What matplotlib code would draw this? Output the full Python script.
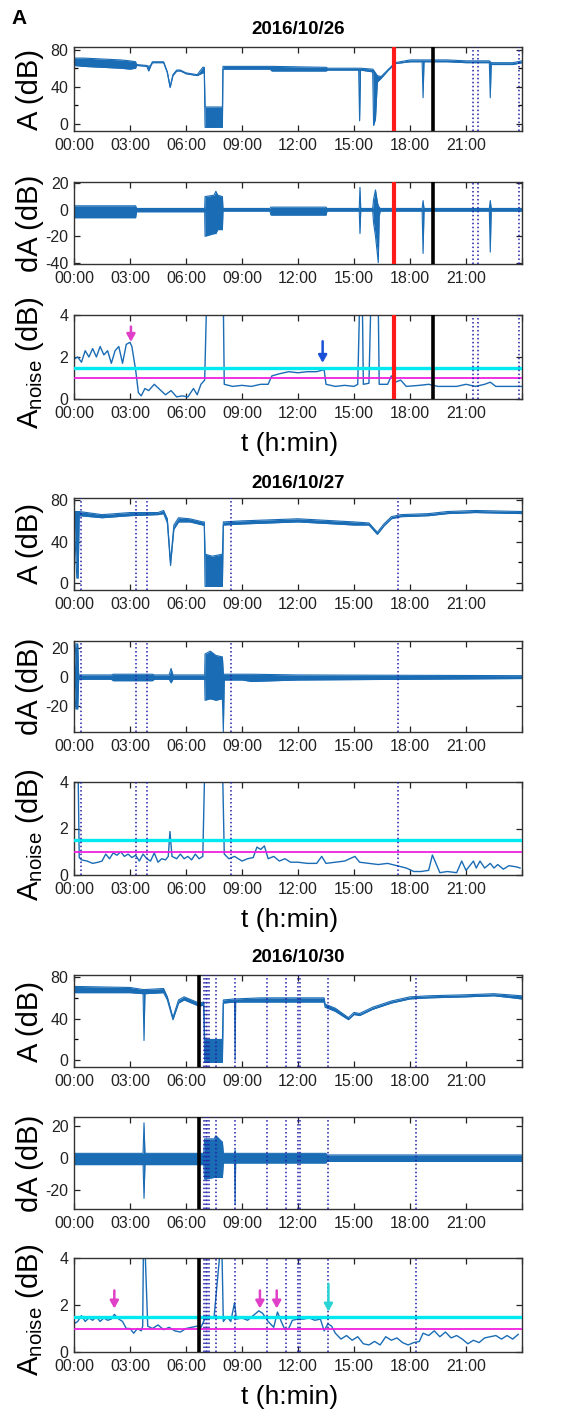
import matplotlib
matplotlib.use('Agg')
import matplotlib.pyplot as plt
import numpy as np
from matplotlib.ticker import FixedLocator

plt.rcParams['font.family'] = ['Liberation Sans', 'DejaVu Sans']
plt.rcParams['mathtext.default'] = 'regular'

# ---------------- data ----------------
dates = ['2016/10/26', '2016/10/27', '2016/10/30']
xtick_hours = [0, 3, 6, 9, 12, 15, 18, 21, 24]
xtick_labels = ['00:00', '03:00', '06:00', '09:00', '12:00', '15:00', '18:00', '21:00', '']

# 2016/10/26 amplitude envelope (h, dB)
a26_t  = [0.0, 0.5, 1.5, 2.5, 3.0, 3.3, 3.35, 3.9, 4.0, 4.1, 4.2, 4.8, 5.0, 5.15, 5.3, 5.5, 5.7, 6.0, 6.6, 6.9, 6.98,
          7.02, 7.95, 7.98, 10.5, 10.6, 13.5, 13.6, 15.25, 15.3, 15.35, 16.0, 16.05, 16.15, 16.25, 16.45, 16.8, 17.2,
          18.0, 18.65, 18.7, 18.75, 20.0, 21.0, 22.0, 22.25, 22.3, 22.35, 23.5, 24.0]
a26_lo = [63, 62, 61, 60, 59, 60, 63, 62, 57, 62, 66, 66, 55, 39, 52, 57, 57, 54, 52, 55, 55,
          -4, -4, 59, 59, 57, 57, 58, 58, 3, 58, 56, -2, 5, 45, 49, 57, 65,
          67, 67, 28, 67, 67, 66, 66, 66, 28, 64, 64, 66]
a26_hi = [71, 71, 70, 69, 68, 67, 64, 63, 62, 63, 67, 67, 56, 40, 53, 58, 58, 55, 53, 61, 61,
          18, 18, 62, 62, 62, 61, 60, 60, 60, 60, 59, 58, 55, 52, 51, 58, 66,
          69, 69, 69, 69, 69, 68, 68, 68, 67, 66, 66, 68]

# 2016/10/26 dA envelope
d26_t  = [0.0, 3.3, 3.35, 7.0, 7.02, 7.5, 7.6, 7.7, 7.95, 7.98, 10.5, 10.55, 13.5, 13.55, 15.28, 15.32, 15.36,
          16.0, 16.05, 16.15, 16.25, 16.3, 16.35, 16.4, 18.65, 18.7, 18.75, 22.25, 22.3, 22.35, 24.0]
d26_lo = [-6, -6, -1.5, -1.5, -20, -18, -18, -15, -15, -1, -1, -4, -4, -1, -1, -18, -1,
          -1, -10, -20, -33, -40, -5, -1, -1, -33, -1, -1, -32, -1, -1]
d26_hi = [3, 3, 1, 1, 10, 11, 14, 11, 10, 1, 1, 2, 2, 1, 1, 17, 1,
          1, 8, 15, 6, 3, 2, 1, 1, 7, 1, 1, 7, 1, 1]

# 2016/10/26 noise amplitude
n26_t = [0.0, 0.2, 0.4, 0.6, 0.8, 1.0, 1.2, 1.4, 1.6, 1.8, 2.0, 2.2, 2.4, 2.6, 2.8, 3.0, 3.1, 3.3, 3.45, 3.6,
         3.8, 4.0, 4.3, 4.6, 4.9, 5.2, 5.5, 5.8, 6.1, 6.4, 6.6, 6.8, 7.0, 7.1, 8.0, 8.05, 8.5, 9.0, 9.5, 10.0,
         10.4, 10.6, 11.0, 11.5, 12.0, 12.5, 13.0, 13.4, 13.5, 14.0, 14.5, 15.0, 15.2, 15.3, 15.45, 15.5, 15.8,
         15.9, 16.3, 16.35, 16.8, 17.0, 17.2, 17.5, 17.8, 18.5, 19.0, 19.5, 20.0, 20.5, 21.0, 21.5, 22.0, 22.3,
         22.6, 23.2, 24.0]
n26_v = [1.9, 2.0, 1.75, 2.3, 2.0, 2.4, 2.0, 2.5, 2.1, 2.3, 1.7, 2.3, 2.5, 1.7, 2.6, 2.7, 2.5, 1.4, 0.3, 0.15,
         0.5, 0.4, 0.7, 0.45, 0.2, 0.4, 0.1, 0.15, 0.1, 0.5, 0.2, 0.7, 0.9, 4.5, 4.5, 0.7, 0.6, 0.65, 0.6, 0.7,
         0.7, 1.1, 1.2, 1.3, 1.25, 1.3, 1.3, 1.4, 0.7, 0.6, 0.65, 0.6, 0.7, 4.5, 4.5, 0.7, 0.75,
         4.5, 4.5, 0.7, 0.7, 1.1, 0.8, 0.9, 0.6, 0.65, 0.7, 0.6, 0.6, 0.6, 0.7, 0.6, 0.7, 0.8,
         0.6, 0.6, 0.6]

# 2016/10/27
a27_t  = [0.0, 0.15, 0.22, 0.28, 1.5, 3.0, 4.5, 4.8, 5.0, 5.17, 5.35, 5.6, 6.2, 6.9, 6.98, 7.02, 7.4, 7.95,
          8.0, 9.0, 12.0, 15.0, 15.8, 16.25, 16.6, 17.0, 17.5, 19.0, 20.0, 21.5, 24.0]
a27_lo = [66, 5, 5, 65, 63, 65, 66, 67, 58, 17, 52, 59, 59, 56, 56, -3, -3, -3,
          56, 57, 59, 56, 56, 47, 55, 62, 64, 65, 67, 68, 67]
a27_hi = [69, 69, 69, 69, 66, 68, 68, 70, 62, 20, 56, 63, 62, 59, 59, 28, 26, 28,
          59, 60, 62, 59, 58, 49, 57, 64, 66, 67, 69, 70, 69]

d27_t  = [0.0, 0.1, 0.2, 0.25, 2.0, 2.1, 4.2, 4.3, 5.1, 5.2, 5.3, 7.0, 7.02, 7.3, 7.6, 7.95, 8.0, 8.05,
          9.0, 9.5, 12.0, 24.0]
d27_lo = [-1, -22, -22, -1.5, -1.5, -2.5, -2.5, -1.5, -1.5, -4, -1.5, -1.5, -16, -15, -16, -15, -38, -2,
          -2, -3, -2, -1]
d27_hi = [1, 23, 23, 1.5, 1.5, 2, 2, 1.5, 1.5, 6, 1.5, 1.5, 16, 18, 15, 14, 2, 2,
          2, 2, 1.5, 1]

n27_t = [0.08, 0.22, 0.28, 0.4, 0.7, 1.0, 1.3, 1.5, 1.7, 1.9, 2.1, 2.3, 2.5, 2.7, 2.9, 3.1, 3.3, 3.5, 3.7,
         3.9, 4.1, 4.3, 4.5, 4.7, 4.9, 5.05, 5.14, 5.25, 5.5, 5.7, 5.9, 6.1, 6.3, 6.5, 6.7, 6.9, 7.0, 7.96,
         8.05, 8.3, 8.6, 9.0, 9.3, 9.6, 9.8, 10.0, 10.2, 10.4, 10.7, 11.0, 11.3, 11.6, 12.0, 12.5, 13.0,
         13.27, 13.5, 14.0, 14.5, 15.05, 15.3, 15.8, 16.3, 16.8, 17.3, 17.8, 18.2, 18.6, 19.0, 19.2, 19.6,
         20.0, 20.5, 20.77, 21.0, 21.4, 21.55, 21.75, 22.0, 22.3, 22.5, 22.7, 23.0, 23.3, 23.7, 23.9]
n27_v = [4.5, 4.5, 0.75, 0.65, 0.6, 0.5, 0.55, 0.6, 0.9, 0.7, 0.95, 0.85, 1.0, 0.8, 0.9, 0.75, 0.85, 0.6, 0.9,
         0.7, 0.6, 0.95, 0.55, 0.7, 0.65, 0.8, 1.87, 0.8, 0.7, 0.9, 0.7, 0.8, 0.65, 0.9, 0.7, 0.8, 4.5, 4.5,
         0.9, 0.7, 0.8, 0.6, 0.7, 0.75, 1.2, 1.1, 1.25, 0.7, 0.8, 0.6, 0.7, 0.55, 0.55, 0.5, 0.5,
         0.8, 0.5, 0.55, 0.6, 0.8, 0.55, 0.5, 0.45, 0.5, 0.4, 0.3, 0.15, 0.15, 0.2, 0.86, 0.1,
         0.15, 0.1, 0.6, 0.2, 0.6, 0.3, 0.6, 0.3, 0.5, 0.3, 0.45, 0.25, 0.4, 0.35, 0.3]

# 2016/10/30
a30_t  = [0.0, 3.0, 3.7, 3.75, 3.8, 4.8, 5.0, 5.3, 5.6, 5.9, 6.3, 6.7, 6.95, 7.0, 7.95, 8.0, 8.6, 8.63, 8.66,
          10.0, 13.4, 13.45, 14.0, 14.7, 15.0, 15.3, 16.0, 17.0, 18.0, 19.0, 21.0, 22.5, 24.0]
a30_lo = [65, 65, 64, 19, 64, 65, 58, 39, 55, 58, 55, 52, 53, -2, -2, 55, 56, 0, 56,
          56, 56, 51, 47, 39, 44, 43, 49, 55, 59, 60, 61, 62, 59]
a30_hi = [71, 70, 68, 68, 68, 69, 61, 41, 58, 61, 58, 55, 56, 20, 20, 58, 59, 59, 59,
          60, 60, 54, 50, 41, 46, 45, 51, 57, 61, 62, 63, 64, 62]

d30_t  = [0.0, 3.7, 3.75, 3.8, 6.95, 7.0, 7.5, 7.6, 7.95, 8.0, 8.6, 8.63, 8.66, 13.5, 13.55, 24.0]
d30_lo = [-4, -4, -25, -4, -4, -13, -12, -12, -12, -3, -3, -29, -3, -3, -2, -2]
d30_hi = [3, 3, 22, 3, 3, 12, 12, 14, 10, 3, 3, 5, 3, 3, 2, 2]

n30_t = [0.0, 0.2, 0.4, 0.6, 0.8, 1.0, 1.2, 1.4, 1.6, 1.8, 2.0, 2.16, 2.4, 2.6, 2.8, 3.0, 3.2, 3.4, 3.6,
         3.68, 3.72, 3.8, 3.95, 4.2, 4.5, 4.8, 5.1, 5.4, 5.7, 6.0, 6.3, 6.6, 6.8, 7.0, 7.2, 7.5, 7.85, 7.92,
         8.0, 8.2, 8.4, 8.6, 8.7, 9.0, 9.3, 9.6, 9.9, 10.1, 10.4, 10.7, 10.9, 11.1, 11.3, 11.5, 11.7, 12.0,
         12.3, 12.6, 12.9, 13.2, 13.4, 13.6, 13.8, 14.0, 14.3, 14.6, 14.9, 15.2, 15.5, 15.8, 16.1, 16.4,
         16.7, 17.0, 17.3, 17.6, 17.9, 18.2, 18.5, 18.7, 19.0, 19.3, 19.6, 19.9, 20.2, 20.5, 20.8, 21.1,
         21.4, 21.7, 22.0, 22.3, 22.6, 22.9, 23.2, 23.5, 23.8]
n30_v = [1.2, 1.3, 1.55, 1.3, 1.45, 1.35, 1.5, 1.3, 1.45, 1.35, 1.4, 1.6, 1.4, 1.3, 1.0, 1.0, 0.8, 1.0, 0.9,
         1.1, 4.5, 4.5, 1.1, 1.0, 1.15, 0.95, 1.05, 0.9, 0.85, 1.0, 1.05, 1.1, 1.05, 1.4, 1.5, 1.45, 4.5, 4.5,
         1.3, 1.5, 1.3, 2.1, 1.4, 1.45, 1.35, 1.55, 1.75, 1.65, 1.3, 1.05, 1.7, 1.3, 0.95, 1.0, 1.35, 1.4,
         1.4, 1.45, 1.35, 1.4, 0.9, 1.2, 1.1, 0.8, 0.55, 0.7, 0.5, 0.65, 0.35, 0.3, 0.45, 0.3,
         0.65, 0.5, 0.6, 0.4, 0.3, 0.4, 0.45, 0.8, 0.7, 0.9, 0.65, 0.85, 0.6, 0.7, 0.55, 0.35,
         0.5, 0.4, 0.6, 0.65, 0.7, 0.55, 0.7, 0.55, 0.75]

# event markers (hours)
red26 = [17.14]
black26 = [19.25]
dotted26 = [21.39, 21.66, 23.82]
dotted27 = [0.375, 3.32, 3.89, 8.39, 17.34]
black30 = [6.70]
dotted30 = [6.98, 7.06, 7.14, 7.22, 7.59, 8.63, 10.32, 11.36, 11.98, 12.1, 13.63, 18.32]

thr_cyan = 1.5
thr_magenta = 1.0

# arrows: (hour, tail, head, colour)
arrows26 = [(3.05, 3.45, 2.72, '#e040c8'), (13.32, 2.75, 1.72, '#1a50d8')]
arrows30 = [(2.16, 2.62, 1.85, '#e040c8'), (9.96, 2.62, 1.85, '#e040c8'), (10.86, 2.62, 1.85, '#e040c8'),
            (13.63, 2.9, 1.72, '#2ad4d4')]

# ---------------- figure ----------------
W, H = 571, 1412
fig = plt.figure(figsize=(W / 100, H / 100), dpi=100)
LINE = '#1a6cb5'

def add_ax(top, bottom):
    return fig.add_axes([74 / W, 1 - bottom / H, 448 / W, (bottom - top) / H])

def style(ax, ylim, yticks, minor=None):
    ax.set_xlim(0, 24)
    ax.set_ylim(*ylim)
    ax.xaxis.set_major_locator(FixedLocator(xtick_hours))
    ax.set_xticklabels(xtick_labels)
    ax.set_yticks(yticks)
    ax.set_yticklabels([str(v) for v in yticks])
    if minor:
        ax.yaxis.set_minor_locator(FixedLocator(minor))
    ax.tick_params(direction='in', top=True, right=True, length=4, width=0.9,
                   labelsize=11.5, colors='#222222')
    ax.tick_params(axis='x', pad=5)
    ax.tick_params(axis='y', pad=4)
    ax.tick_params(which='minor', direction='in', right=True, length=3, width=0.9)
    for s in ax.spines.values():
        s.set_linewidth(1.0)
        s.set_color('#333333')

def band(ax, t, lo, hi):
    ax.fill_between(t, lo, hi, color=LINE, lw=0, zorder=2)
    ax.plot(t, lo, color=LINE, lw=0.8, zorder=2)
    ax.plot(t, hi, color=LINE, lw=0.8, zorder=2)

def markers(ax, reds, blacks, dots):
    for x in dots:
        ax.axvline(x, color='#2020a8', ls=(0, (1, 1.6)), lw=1.1, zorder=4)
    for x in reds:
        ax.axvline(x, color='#ff1a1a', lw=3.0, zorder=5)
    for x in blacks:
        ax.axvline(x, color='black', lw=2.6, zorder=5)

def noise(ax, t, v):
    ax.plot(t, v, color=LINE, lw=1.0, zorder=2)
    ax.axhline(thr_cyan, color='#00e8f0', lw=2.4, zorder=3)
    ax.axhline(thr_magenta, color='#f020e0', lw=1.3, zorder=3)

def ylabel(ytop, ybot, text):
    fig.text(30 / W, 1 - (ytop + ybot) / 2 / H, text, rotation=90, ha='center', va='center', fontsize=21)

def title(y, text):
    fig.text(298 / W, 1 - y / H, text, ha='center', va='center', fontsize=13.5, fontweight='bold')

def xlabel(y):
    fig.text(290 / W, 1 - y / H, 't (h:min)', ha='center', va='center', fontsize=19)

def arrows(ax, arr):
    for x, y0, y1, c in arr:
        ax.annotate('', xy=(x, y1), xytext=(x, y0),
                    arrowprops=dict(arrowstyle='-|>,head_width=0.25,head_length=0.45', color=c, lw=1.8,
                                    shrinkA=0, shrinkB=0),
                    zorder=6)

fig.text(11 / W, 1 - 19 / H, 'A', ha='left', va='center', fontsize=15, fontweight='bold')

NOISE_LABEL = r'$\mathregular{A_{noise}}$ (dB)'

# ---- 2016/10/26 ----
title(30, dates[0])
ax = add_ax(47, 131)
band(ax, a26_t, a26_lo, a26_hi)
markers(ax, red26, black26, dotted26)
style(ax, (-8, 83), [0, 40, 80], [20, 60])
ylabel(47, 131, 'A (dB)')

ax = add_ax(182, 264)
band(ax, d26_t, d26_lo, d26_hi)
markers(ax, red26, black26, dotted26)
style(ax, (-41, 21), [-40, -20, 0, 20])
ylabel(182, 264, 'dA (dB)')

ax = add_ax(315, 399)
noise(ax, n26_t, n26_v)
markers(ax, red26, black26, dotted26)
arrows(ax, arrows26)
style(ax, (0, 4), [0, 2, 4])
ylabel(297, 428, NOISE_LABEL)
xlabel(444)

# ---- 2016/10/27 ----
title(483, dates[1])
ax = add_ax(498, 590)
band(ax, a27_t, a27_lo, a27_hi)
markers(ax, [], [], dotted27)
style(ax, (-6.5, 82), [0, 40, 80], [20, 60])
ylabel(498, 590, 'A (dB)')

ax = add_ax(641, 732)
band(ax, d27_t, d27_lo, d27_hi)
markers(ax, [], [], dotted27)
style(ax, (-38, 25), [-20, 0, 20])
ylabel(641, 732, 'dA (dB)')

ax = add_ax(782, 875)
noise(ax, n27_t, n27_v)
markers(ax, [], [], dotted27)
style(ax, (0, 4), [0, 2, 4])
ylabel(765, 905, NOISE_LABEL)
xlabel(920)

# ---- 2016/10/30 ----
title(958, dates[2])
ax = add_ax(975, 1067)
band(ax, a30_t, a30_lo, a30_hi)
markers(ax, [], black30, dotted30)
style(ax, (-6.5, 82), [0, 40, 80], [20, 60])
ylabel(975, 1067, 'A (dB)')

ax = add_ax(1117, 1209)
band(ax, d30_t, d30_lo, d30_hi)
markers(ax, [], black30, dotted30)
style(ax, (-31.6, 25.6), [-20, 0, 20])
ylabel(1117, 1209, 'dA (dB)')

ax = add_ax(1258, 1352)
noise(ax, n30_t, n30_v)
markers(ax, [], black30, dotted30)
arrows(ax, arrows30)
style(ax, (0, 4), [0, 2, 4])
ylabel(1240, 1380, NOISE_LABEL)
xlabel(1397)

fig.savefig('out.png', dpi=100)
